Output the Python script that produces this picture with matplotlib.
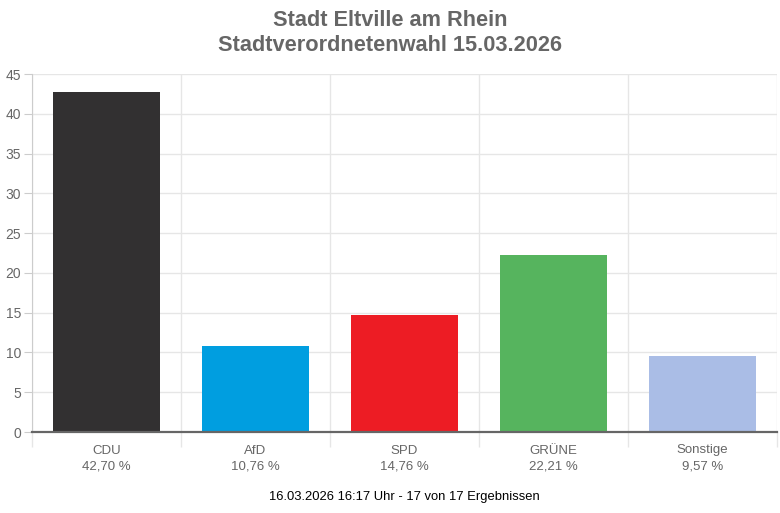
import numpy as np
import matplotlib.pyplot as plt

plt.rcParams['font.family'] = ['Liberation Sans', 'DejaVu Sans']

parties = ['CDU', 'AfD', 'SPD', 'GRÜNE', 'Sonstige']
shares = [42.70, 10.76, 14.76, 22.21, 9.57]
colors = ['#323031', '#009ee0', '#ed1c24', '#56b45e', '#aabde6']
title = 'Stadt Eltville am Rhein\nStadtverordnetenwahl 15.03.2026'
footer = '16.03.2026 16:17 Uhr - 17 von 17 Ergebnissen'

fig = plt.figure(figsize=(7.8, 5.13), dpi=100)
ax = fig.add_axes([32 / 780, 81 / 513, 745 / 780, 358 / 513])

x = np.arange(len(parties))
ax.bar(x, shares, width=0.72, color=colors, zorder=3)

ax.set_xlim(-0.5, len(parties) - 0.5)
ax.set_ylim(0, 45)
ax.set_yticks(np.arange(0, 50, 5))
ax.set_xticks(x)
ax.set_xticklabels([f'{p}\n{v:.2f} %'.replace('.', ',') for p, v in zip(parties, shares)],
                   linespacing=1.4)

# category boundaries as vertical grid lines
ax.set_xticks(np.arange(-0.5, len(parties)), minor=True)
ax.grid(axis='x', which='minor', color='#e6e6e6', lw=1, zorder=0)
ax.grid(axis='y', which='major', color='#e6e6e6', lw=1, zorder=0)
ax.tick_params(axis='x', which='major', length=0, pad=9, labelsize=9.5, labelcolor='#666666')
ax.tick_params(axis='x', which='minor', length=11, color='#e6e6e6', width=1)
ax.tick_params(axis='y', length=6, color='#cccccc', labelsize=10, labelcolor='#666666', pad=2)

for s in ['top', 'right']:
    ax.spines[s].set_visible(False)
ax.spines['left'].set_color('#cccccc')
ax.spines['bottom'].set_color('#666666')
ax.spines['bottom'].set_linewidth(1.6)
ax.spines['bottom'].set_zorder(4)

fig.text(0.5, 1 - 33 / 513, title, ha='center', va='center', fontsize=15.7,
         fontweight='bold', color='#666666', linespacing=1.3)
fig.text(404 / 780, 1 - 497 / 513, footer, ha='center', va='center', fontsize=9.4, color='#000000')

fig.savefig('out.png', dpi=100)
